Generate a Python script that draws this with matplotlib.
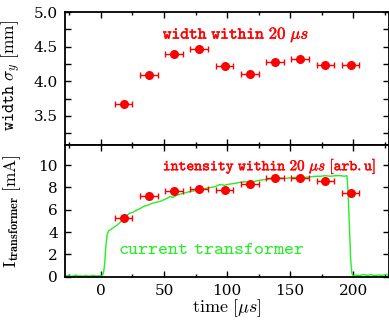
import matplotlib
matplotlib.use("Agg")
import matplotlib.pyplot as plt
import matplotlib.patheffects as pe
from matplotlib.ticker import MultipleLocator

plt.rcParams['mathtext.fontset'] = 'cm'
plt.rcParams['font.family'] = 'serif'
plt.rcParams['font.serif'] = ['DejaVu Serif']

# bunch centres [us], and horizontal half width of each bin
t_bins = [18, 38, 58, 78, 98, 118, 138, 158, 178, 198]
t_err = [7, 7, 7, 7, 7, 7, 7, 7, 7, 7]

# beam width sigma_y within 20 us [mm]
width = [3.67, 4.09, 4.39, 4.47, 4.22, 4.11, 4.28, 4.32, 4.24, 4.24]

# intensity within 20 us [arb.u]
intensity = [5.25, 7.25, 7.70, 7.90, 7.75, 8.35, 8.80, 8.85, 8.55, 7.50]

# current transformer trace [us], [mA]
ct_time = [-28, -26, -24, -22, -20, -18, -16, -14, -12, -10, -8, -6, -4, -2, 0, 1, 2, 3,
           4, 5, 6, 8, 10, 12, 15, 18, 20, 23, 25, 28, 31, 34, 37, 40, 43, 47, 50,
           53, 55, 57, 60, 63, 66, 68, 71, 75, 79, 83, 87, 90, 94, 98, 102, 106,
           110, 114, 118, 122, 126, 130, 134, 138, 142, 146, 150, 154, 158, 162,
           166, 170, 174, 178, 182, 186, 190, 193, 195, 196, 197, 198, 199, 200,
           202, 205, 208, 211, 214, 217, 220, 223, 226, 228]
ct_current = [0.05, 0.12, 0.04, 0.06, 0.15, 0.05, 0.08, 0.04, 0.10, 0.05, 0.07, 0.12,
              0.05, 0.08, 0.06, 0.10, 0.30, 1.2, 2.9, 3.8, 4.10, 4.25, 4.40, 4.55,
              4.85, 5.20, 5.45, 5.70, 5.75, 5.95, 6.10, 6.30, 6.40, 6.55, 6.65, 6.75,
              6.90, 7.05, 7.20, 7.10, 7.30, 7.40, 7.50, 7.55, 7.65, 7.70, 7.85, 7.90,
              8.00, 8.05, 8.25, 8.20, 8.30, 8.35, 8.45, 8.50, 8.45, 8.55, 8.65, 8.70,
              8.75, 8.80, 8.85, 8.80, 8.85, 8.90, 8.95, 8.90, 8.95, 9.00, 9.00, 9.05,
              9.00, 9.05, 9.05, 9.00, 9.05, 7.5, 4.5, 1.5, 0.3, 0.05, 0.15, 0.10,
              0.20, 0.12, 0.18, 0.10, 0.15, 0.12, 0.20, 0.15]

fig = plt.figure(figsize=(3.89, 3.21), dpi=100)
left, right = 65 / 389, 388.5 / 389
y_mid = 1 - 145 / 321
y_top = 1 - 12 / 321
y_bot = 1 - 276.7 / 321
ax1 = fig.add_axes([left, y_mid, right - left, y_top - y_mid])
ax2 = fig.add_axes([left, y_bot, right - left, y_mid - y_bot], sharex=ax1)

for ax in (ax1, ax2):
    for s in ax.spines.values():
        s.set_linewidth(1.3)
    ax.tick_params(which='both', direction='in', top=True, right=True,
                   labelsize=11, width=1.0)
    ax.tick_params(which='major', length=4.5, pad=5)
    ax.tick_params(which='minor', length=2.5)
    ax.xaxis.set_major_locator(MultipleLocator(50))
    ax.xaxis.set_minor_locator(MultipleLocator(25))

bold_red = [pe.withStroke(linewidth=0.3, foreground='red')]

ax1.errorbar(t_bins, width, xerr=t_err, fmt='o', color='red', ms=5.5,
             capsize=2.5, elinewidth=1.0, capthick=1.0)
ax1.set_xlim(-28.5, 228)
ax1.set_ylim(3.08, 5.0)
ax1.yaxis.set_major_locator(MultipleLocator(0.5))
ax1.yaxis.set_minor_locator(MultipleLocator(0.25))
ax1.tick_params(axis='y', which='minor', length=4)
ax1.tick_params(labelbottom=False)
ax1.set_ylabel(r'$\mathtt{width}\ \sigma_y\ [\mathrm{mm}]$', fontsize=12.5)
ax1.yaxis.set_label_coords(-0.13, 0.52)
ax1.text(49, 4.68, r'$\mathtt{width\ within\ 20}\ \mu s$', color='red',
         fontsize=12, va='center', ha='left', path_effects=bold_red)

ax2.plot(ct_time, ct_current, color='#22ee22', lw=1.0)
ax2.errorbar(t_bins, intensity, xerr=t_err, fmt='o', color='red', ms=5.5,
             capsize=2.5, elinewidth=1.0, capthick=1.0)
ax2.set_ylim(0, 11.8)
ax2.yaxis.set_major_locator(MultipleLocator(2))
ax2.set_ylabel(r'$\mathrm{I}_{\mathbf{transformer}}\ [\mathrm{mA}]$', fontsize=12.5)
ax2.yaxis.set_label_coords(-0.13, 0.5)
ax2.set_xlabel(r'$\mathrm{time}\ [\mu s]$', fontsize=13, labelpad=0)
ax2.text(49, 9.9, r'$\mathtt{intensity\ within\ 20}\ \mu s\ \mathtt{[arb.u]}$',
         color='red', fontsize=10.8, va='center', ha='left', path_effects=bold_red)
ax2.text(13.5, 2.5, r'$\mathtt{current\ transformer}$', color='#22ee22',
         fontsize=13.7, va='center', ha='left')

fig.savefig('out.png', dpi=100)
